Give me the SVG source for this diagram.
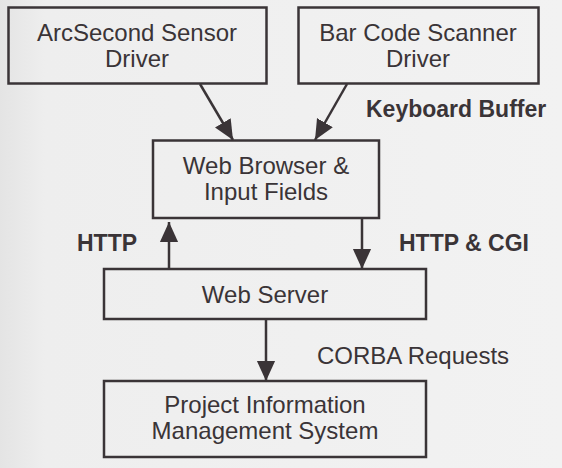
<svg xmlns="http://www.w3.org/2000/svg" width="562" height="468" viewBox="0 0 562 468">
  <defs>
    <linearGradient id="bg" x1="0" y1="0" x2="1" y2="0">
      <stop offset="0" stop-color="#e4e4e4"/>
      <stop offset="0.08" stop-color="#eeeeee"/>
      <stop offset="1" stop-color="#f2f2f2"/>
    </linearGradient>
    <marker id="ah" markerUnits="userSpaceOnUse" markerWidth="20" markerHeight="22" viewBox="0 0 22 20" refX="22" refY="10" orient="auto">
      <path d="M0,0 L22,10 L0,20 Z" fill="#3a3437"/>
    </marker>
    <style>
      .box { fill: none; stroke: #3a3437; stroke-width: 2.5; }
      .t { font-family: "Liberation Sans", Arial, sans-serif; font-size: 24px; fill: #3a3437; text-anchor: middle; }
      .b { font-family: "Liberation Sans", Arial, sans-serif; font-size: 23px; font-weight: bold; fill: #3a3437; }
      .r { font-family: "Liberation Sans", Arial, sans-serif; font-size: 24px; fill: #3a3437; }
      .c { stroke: #3a3437; stroke-width: 2.5; fill: none; marker-end: url(#ah); }
    </style>
  </defs>
  <rect x="0" y="0" width="562" height="468" fill="url(#bg)"/>

  <g id="arcsecond">
    <rect class="box" x="8.5" y="7.5" width="258" height="76"/>
    <text class="t" x="137" y="41">ArcSecond Sensor</text>
    <text class="t" x="137" y="67">Driver</text>
  </g>
  <g id="barcode">
    <rect class="box" x="298.5" y="7.5" width="240" height="76"/>
    <text class="t" x="418" y="41">Bar Code Scanner</text>
    <text class="t" x="418" y="67">Driver</text>
  </g>
  <g id="browser">
    <rect class="box" x="153" y="140.5" width="226" height="77.5"/>
    <text class="t" x="266" y="174">Web Browser &amp;</text>
    <text class="t" x="266" y="200">Input Fields</text>
  </g>
  <g id="server">
    <rect class="box" x="104" y="269" width="322" height="50"/>
    <text class="t" x="265" y="303">Web Server</text>
  </g>
  <g id="pims">
    <rect class="box" x="104" y="381" width="322" height="76"/>
    <text class="t" x="265" y="413">Project Information</text>
    <text class="t" x="265" y="439">Management System</text>
  </g>

  <g id="connectors">
    <line class="c" x1="200" y1="84" x2="233" y2="140"/>
    <line class="c" x1="347" y1="84" x2="315" y2="140"/>
    <line class="c" x1="169" y1="269" x2="169" y2="222"/>
    <line class="c" x1="362" y1="218" x2="362" y2="269"/>
    <line class="c" x1="266" y1="319" x2="266" y2="381"/>
  </g>

  <g id="labels">
    <text class="b" x="366" y="117">Keyboard Buffer</text>
    <text class="b" x="77" y="251">HTTP</text>
    <text class="b" x="399" y="251">HTTP &amp; CGI</text>
    <text class="r" x="317" y="364">CORBA Requests</text>
  </g>
</svg>
